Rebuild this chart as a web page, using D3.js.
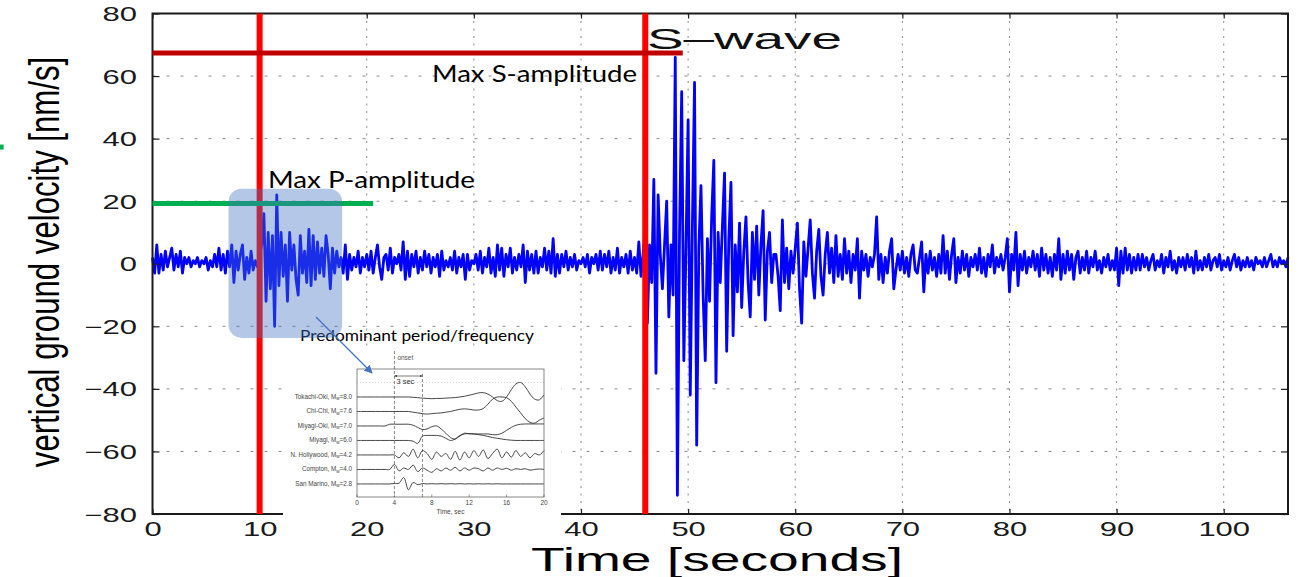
<!DOCTYPE html>
<html><head><meta charset="utf-8">
<script src="https://cdn.jsdelivr.net/npm/d3@7"></script>
<style>body{margin:0;background:#fff}svg{display:block}</style>
</head><body>
<svg id="c" width="1301" height="577"></svg>
<script>
// ---------- main seismogram data (velocity in nm/s, one sample every 0.2 s) ----------
const sampleStep = 0.2;
const velocity0to10 = [
  2,-3,6,-3,3,-2,4,-1,2,5,
  -2,3,-1,4,-3,2,0,2,-1,1,
  0,2,-1,1,0,2,-2,1,-1,3,
  -1,5,-2,3,-3,4,-1,6,-6,4,
  -2,3,6,-5,2,-3,4,-2,1,-1];
const velocity10to20 = [
  3,6,16,-12,10,-8,9,-20,22,-7,
  10,-4,6,-12,10,-2,6,-5,-10,9,
  -3,4,-6,11,-7,9,-5,7,-3,5,
  -4,9,3,-8,5,-3,4,-1,2,-3,
  6,-5,3,-2,2,-1,4,-3,2,-1];
const velocity20to30 = [
  3,-2,4,-3,2,6,-1,-5,2,3,
  -2,5,-3,2,0,3,-2,7,-5,4,
  -4,3,-1,4,-3,2,-2,4,-1,3,
  -3,2,-1,3,-4,4,-2,1,-1,2,
  -2,4,-3,2,-1,3,-5,3,-2,1];
const velocity30to40 = [
  0,3,-2,4,-3,2,-1,5,-3,2,
  -4,6,-2,5,-4,3,-1,5,-3,2,
  -2,3,-1,6,-6,4,-2,3,-3,4,
  -3,2,-1,5,-2,4,-3,8,-4,3,
  -3,3,-1,4,-2,2,-1,3,-2,1];
const velocity40to50 = [
  0,2,-1,3,-3,2,0,3,-2,4,
  -2,3,-1,4,-3,2,-2,5,-3,2,
  -1,3,-3,4,-2,2,-3,7,-4,3,
  12,-19,6,-6,27,-35,22,3,-8,6,
  20,-17,6,-10,66,-74,10,55,-31,5];
const velocity50to60 = [
  46,-42,12,58,-58,5,25,-10,-31,8,
  -12,15,33,-38,10,-6,12,29,-28,8,
  26,-23,6,-9,13,-14,4,15,-6,-17,
  10,-5,12,-10,6,17,-18,4,10,-6,
  3,3,-4,-15,14,-6,5,-8,4,-3];
const velocity60to70 = [
  5,13,-8,-19,7,-4,5,14,-3,-11,
  4,11,-4,-10,3,10,-3,5,-6,9,
  -4,3,-5,8,-3,4,-6,3,-2,8,
  -11,4,-2,3,-4,2,-1,3,15,-5,
  3,-6,2,-3,4,8,-8,-2,3,-2];
const velocity70to80 = [
  4,-3,2,-4,3,6,-2,-3,2,7,
  -9,3,-3,4,-2,2,-4,3,-3,9,
  -3,4,-5,3,8,-6,2,-3,4,-2,
  3,-4,2,-1,3,-2,5,-3,2,-4,
  3,-1,6,-3,2,-1,3,-2,2,8];
const velocity80to90 = [
  -9,3,-2,10,-7,3,-2,4,-3,2,
  -1,4,-2,3,-4,5,-2,3,-3,2,
  -4,3,-2,8,-5,3,-3,4,-2,3,
  -5,2,4,-3,2,-2,4,-3,2,-1,
  4,-2,1,-3,2,-1,3,-2,1,-2];
const velocity90to100 = [
  5,-7,4,-3,5,-2,3,-3,2,-2,
  3,-2,3,-1,2,-2,1,3,-2,1,
  -1,3,-3,2,-1,4,-2,1,-3,2,
  -1,2,-2,3,-1,2,-3,4,-2,1,
  -2,2,-1,3,-2,1,2,-1,3,-2];
const velocity100to106 = [
  1,-1,2,-2,1,3,-1,2,-2,1,
  -1,2,-1,1,-2,2,0,1,-1,2,
  -1,1,3,-1,1,-1,2,0,1,-1,
  2];

const xTicks = [0,10,20,30,40,50,60,70,80,90,100];
const yTicks = [-80,-60,-40,-20,0,20,40,60,80];
const timeMax = 106;

// annotations (data units)
const pArrivalTime = 10, sArrivalTime = 46;
const maxSAmplitude = 67.4, maxSLineEnd = 49.5;
const maxPAmplitude = 19.3, maxPLineEnd = 20.6;
const pWindowTime = [7.1, 17.7], pWindowVel = [-23.7, 24];
const strayMarkTime = [-14.3, -13.9], strayMarkVel = 37.3;

// ---------- inset data (traces, normalised to trace spacing, every 0.5 s) ----------
const insetStep = 0.5;
const insetTicks = [0,4,8,12,16,20];
const insetNames = ["Tokachi-Oki","Chi-Chi","Miyagi-Oki","Miyagi","N. Hollywood","Compton","San Marino"];
const insetMagnitudes = ["8.0","7.6","7.0","6.0","4.2","4.0","2.8"];
const traceTokachi = [0,0,0,0,0,0,0,0, 0,0,0,0, -0.02,-0.05,-0.08,-0.1,-0.12,-0.1,-0.1,-0.08, -0.06,-0.04,0,0.05, 0.12,0.2,0.28,0.3, 0.2,0,-0.25,-0.3, 0,0.5,0.9,1.0, 0.7,0.2,-0.15,-0.2, 0.15];
const traceChiChi = [0,0,0,0,0,0,0,0, 0,0,0,0, -0.05,-0.1,-0.15,-0.18,-0.15,-0.12,-0.1,-0.05, 0,0.08,0.15,0.18, 0.15,0.1,0.1,0.2, 0.5,0.85,1.0,1.0, 0.95,0.7,0.3,-0.1, -0.5,-0.75,-0.8,-0.6, -0.45];
const traceMiyagiOki = [0,0,0,0,0,0,0,0.12, 0.12,0.12,0.12,0.12, 0.05,-0.1,-0.25,-0.2,-0.05,0,-0.2,-0.5, -0.8,-0.9,-0.7,-0.5, -0.55,-0.55,-0.55,-0.55, -0.55,-0.6,-0.6,-0.5, -0.3,-0.1,0.05,0.12, 0.14,0.14,0.14,0.14, 0.14];
const traceMiyagi = [0,0,0,0,0,0,0,0, 0,0,0,0, -0.05,-0.2,0.3,0.35,0.35,0.35,0.3,0.15, 0,0.1,0.35,0.45, 0.48,0.45,0.4,0.35, 0.28,0.2,0.15,0.1, 0.05,0.02,0,0, 0,0,0,0, 0];
const traceHollywood = [0,0,0,0,0,0,0,0, 0,-0.2,0.15,-0.1, 0.4,-0.2,0.3,0.1,-0.3,0.2,-0.1,0.1, -0.3,0.25,-0.35,0.2, -0.2,0.3,-0.1,0.35, -0.25,0.1,0.4,-0.2, 0.2,-0.15,0.3,-0.1, 0.15,-0.2,0.1,0, 0.3];
const traceCompton = [0,0,0,0,0,0,0,0, 0.35,-0.1,0.1,0, 0.3,-0.15,0.1,-0.05,-0.2,0.05,-0.1,0.1, -0.05,0.15,-0.1,0.1, -0.05,0.1,0.05,-0.1, 0.1,-0.05,0.1,0, 0.08,-0.05,0.05,0, 0.05,-0.05,0,0.03, 0];
const traceSanMarino = [0,0,0,0,0,0,0,0, 0.03,0.06,0.45,-0.4, 0.1,-0.05,0.03,0,0.02,0,0.02,0, 0.02,0,0.02,0, 0.01,0,0.01,0, 0.01,0,0.01,0, 0,0,0,0, 0,0,0,0, 0];
const insetTraces = [traceTokachi, traceChiChi, traceMiyagiOki, traceMiyagi, traceHollywood, traceCompton, traceSanMarino];

// ---------- build ----------
const velocity = [].concat(velocity0to10, velocity10to20, velocity20to30, velocity30to40,
  velocity40to50, velocity50to60, velocity60to70, velocity70to80, velocity80to90,
  velocity90to100, velocity100to106);
const series = velocity.map((v,i)=>({t: +(i*sampleStep).toFixed(2), v}));

const svg = d3.select("#c");
const x = d3.scaleLinear().domain([0,timeMax]).range([152.5,1288]);
const y = d3.scaleLinear().domain([-80,80]).range([514,13.5]);
const SX = 1.55;
const helv = "Liberation Sans, Arial, sans-serif";

// grid
const grid = svg.append("g");
grid.selectAll("line.v").data(xTicks.filter(d=>d>0)).join("line")
  .attr("x1",d=>x(d)).attr("x2",d=>x(d)).attr("y1",y(80)).attr("y2",y(-80))
  .attr("stroke","#8a8a8a").attr("stroke-width",1).attr("stroke-dasharray","2,5.5");
grid.selectAll("line.h").data(yTicks.filter(d=>Math.abs(d)<80)).join("line")
  .attr("x1",x(0)).attr("x2",x(timeMax)).attr("y1",d=>y(d)).attr("y2",d=>y(d))
  .attr("stroke","#8a8a8a").attr("stroke-width",1).attr("stroke-dasharray","3,11");

// waveform
svg.append("path").datum(series)
  .attr("d", d3.line().x(d=>x(d.t)).y(d=>y(d.v)))
  .attr("fill","none").attr("stroke","#0000ff").attr("stroke-width",2.8)
  .attr("stroke-linejoin","round");

// axes
function styleAxis(g){ g.select(".domain").remove(); g.selectAll(".tick line").attr("stroke","#222").attr("stroke-width",1.2); }
const ax = svg.append("g").attr("transform",`translate(0,${y(-80)})`)
  .call(d3.axisBottom(x).tickValues(xTicks).tickSizeInner(-5).tickSizeOuter(0));
styleAxis(ax);
ax.selectAll(".tick text").attr("y",22).attr("dy",0)
  .attr("font-family",helv).attr("font-size",20).attr("fill","#1a1a1a")
  .attr("transform",`scale(${SX},1)`);
const axTop = svg.append("g").attr("transform",`translate(0,${y(80)})`)
  .call(d3.axisTop(x).tickValues(xTicks).tickSizeInner(-5).tickSizeOuter(0).tickFormat(""));
styleAxis(axTop);
const ay = svg.append("g").attr("transform",`translate(${x(0)},0)`)
  .call(d3.axisLeft(y).tickValues(yTicks).tickSizeInner(-7).tickSizeOuter(0));
styleAxis(ay);
ay.selectAll(".tick text").attr("x",-15.5/SX).attr("dy","0.35em")
  .attr("font-family",helv).attr("font-size",20).attr("fill","#1a1a1a")
  .attr("transform",`scale(${SX},1)`);
const ayR = svg.append("g").attr("transform",`translate(${x(timeMax)},0)`)
  .call(d3.axisRight(y).tickValues(yTicks).tickSizeInner(-7).tickSizeOuter(0).tickFormat(""));
styleAxis(ayR);
svg.append("rect").attr("x",x(0)).attr("y",y(80)).attr("width",x(timeMax)-x(0)).attr("height",y(-80)-y(80))
  .attr("fill","none").attr("stroke","#1a1a1a").attr("stroke-width",2);

// axis titles
svg.append("text").attr("x",531).attr("y",571).attr("textLength",372).attr("lengthAdjust","spacingAndGlyphs")
  .attr("font-family",helv).attr("font-size",33).attr("fill","#000")
  .text("Time [seconds]");
svg.append("text").attr("transform","translate(59,262) rotate(-90) scale(0.742,1)").attr("text-anchor","middle")
  .attr("font-family",helv).attr("font-size",42).attr("fill","#000")
  .text("vertical ground velocity [nm/s]");

// red arrival lines
svg.selectAll("line.arr").data([pArrivalTime, sArrivalTime]).join("line")
  .attr("x1",d=>x(d)).attr("x2",d=>x(d)).attr("y1",y(80)).attr("y2",y(-80))
  .attr("stroke","#ff0000").attr("stroke-width",6);
// max amplitude lines
svg.append("line").attr("x1",x(0)).attr("x2",x(maxSLineEnd)).attr("y1",y(maxSAmplitude)).attr("y2",y(maxSAmplitude))
  .attr("stroke","#c00000").attr("stroke-width",5);
svg.append("line").attr("x1",x(0)).attr("x2",x(maxPLineEnd)).attr("y1",y(maxPAmplitude)).attr("y2",y(maxPAmplitude))
  .attr("stroke","#00b050").attr("stroke-width",5);
svg.append("line").attr("x1",x(strayMarkTime[0])).attr("x2",x(strayMarkTime[1])).attr("y1",y(strayMarkVel)).attr("y2",y(strayMarkVel))
  .attr("stroke","#00b050").attr("stroke-width",5);

// S-wave label
svg.append("text").attr("x",647).attr("y",49).attr("textLength",195).attr("lengthAdjust","spacingAndGlyphs")
  .attr("font-family",helv).attr("font-size",30).attr("fill","#111")
  .text("S\u2013wave");

// annotation texts
const annFont = "Lato, 'Open Sans', sans-serif";
svg.append("text").attr("x",432).attr("y",82).attr("textLength",205).attr("lengthAdjust","spacingAndGlyphs")
  .attr("font-family",annFont).attr("font-size",23).attr("fill","#000").text("Max S-amplitude");
svg.append("text").attr("x",268).attr("y",188).attr("textLength",207).attr("lengthAdjust","spacingAndGlyphs")
  .attr("font-family",annFont).attr("font-size",24).attr("fill","#000").text("Max P-amplitude");

// ---------- inset ----------
const inset = svg.append("g");
inset.append("rect").attr("x",283).attr("y",346).attr("width",278).attr("height",171).attr("fill","#fff");
const xi = d3.scaleLinear().domain([0,20]).range([357,544]);
const yi = d3.scaleLinear().domain([-1.93,6.9]).range([369,497]);
inset.append("line").attr("x1",xi(0)).attr("x2",xi(20)).attr("y1",yi(-1)).attr("y2",yi(-1))
  .attr("stroke","#bbb").attr("stroke-width",0.6).attr("stroke-dasharray","1,2");
inset.append("rect").attr("x",xi(0)).attr("y",yi(-1.93)).attr("width",xi(20)-xi(0)).attr("height",yi(6.9)-yi(-1.93))
  .attr("fill","none").attr("stroke","#555").attr("stroke-width",0.7);
inset.selectAll("line.it").data(insetTicks).join("line")
  .attr("x1",d=>xi(d)).attr("x2",d=>xi(d)).attr("y1",yi(6.9)).attr("y2",yi(6.9)-2.5)
  .attr("stroke","#555").attr("stroke-width",0.6);
inset.selectAll("text.it").data(insetTicks).join("text")
  .attr("x",d=>xi(d)).attr("y",505).attr("text-anchor","middle")
  .attr("font-family",helv).attr("font-size",6.5).attr("fill","#444").text(d=>d);
inset.append("text").attr("x",xi(10)).attr("y",514).attr("text-anchor","middle")
  .attr("font-family",helv).attr("font-size",6.5).attr("fill","#444").text("Time, sec");
// onset lines
inset.append("line").attr("x1",xi(4)).attr("x2",xi(4)).attr("y1",351).attr("y2",yi(6.9))
  .attr("stroke","#555").attr("stroke-width",0.7).attr("stroke-dasharray","3,2");
inset.append("line").attr("x1",xi(7)).attr("x2",xi(7)).attr("y1",374).attr("y2",yi(6.9))
  .attr("stroke","#555").attr("stroke-width",0.7).attr("stroke-dasharray","3,2");
inset.append("text").attr("x",xi(4)+3).attr("y",360).attr("font-family",helv).attr("font-size",6.5).attr("fill","#555").text("onset");
const defs = svg.append("defs");
defs.append("marker").attr("id","ah").attr("viewBox","0 0 10 10").attr("refX",10).attr("refY",5)
  .attr("markerWidth",4).attr("markerHeight",4).attr("orient","auto-start-reverse")
  .append("path").attr("d","M0,0L10,5L0,10z").attr("fill","#444");
inset.append("line").attr("x1",xi(4)).attr("x2",xi(7)).attr("y1",376).attr("y2",376)
  .attr("stroke","#444").attr("stroke-width",0.7).attr("marker-start","url(#ah)").attr("marker-end","url(#ah)");
inset.append("text").attr("x",xi(4)+2).attr("y",384).attr("font-family",helv).attr("font-size",7.5).attr("fill","#333").text("3 sec");
// traces
const traceLine = d3.line().curve(d3.curveCatmullRom);
insetTraces.forEach((tr,k)=>{
  inset.append("path")
    .attr("d", traceLine(tr.map((a,i)=>[xi(i*insetStep), yi(k - a)])))
    .attr("fill","none").attr("stroke","#333").attr("stroke-width",0.9);
  const t = inset.append("text").attr("x",xi(0)-5).attr("y",yi(k)+2).attr("text-anchor","end")
    .attr("font-family",helv).attr("font-size",6.3).attr("fill","#444");
  t.append("tspan").text(insetNames[k] + ", M");
  t.append("tspan").attr("font-size",4.5).attr("dy",1.5).text("w");
  t.append("tspan").attr("dy",-1.5).text("=" + insetMagnitudes[k]);
});

svg.append("text").attr("x",300).attr("y",341).attr("textLength",234).attr("lengthAdjust","spacingAndGlyphs")
  .attr("font-family",annFont).attr("font-size",15.5).attr("fill","#000").text("Predominant period/frequency");

// P window highlight
svg.append("rect").attr("x",x(pWindowTime[0])).attr("y",y(pWindowVel[1]))
  .attr("width",x(pWindowTime[1])-x(pWindowTime[0])).attr("height",y(pWindowVel[0])-y(pWindowVel[1]))
  .attr("rx",13).attr("ry",13).attr("fill","#4472c4").attr("fill-opacity",0.4);

// arrow
defs.append("marker").attr("id","ab").attr("viewBox","0 0 10 10").attr("refX",9).attr("refY",5)
  .attr("markerWidth",7).attr("markerHeight",7).attr("orient","auto")
  .append("path").attr("d","M0,0L10,5L0,10z").attr("fill","#4472c4");
svg.append("line").attr("x1",316).attr("y1",317).attr("x2",372).attr("y2",373)
  .attr("stroke","#4472c4").attr("stroke-width",1.2).attr("marker-end","url(#ab)");
</script>
</body></html>
